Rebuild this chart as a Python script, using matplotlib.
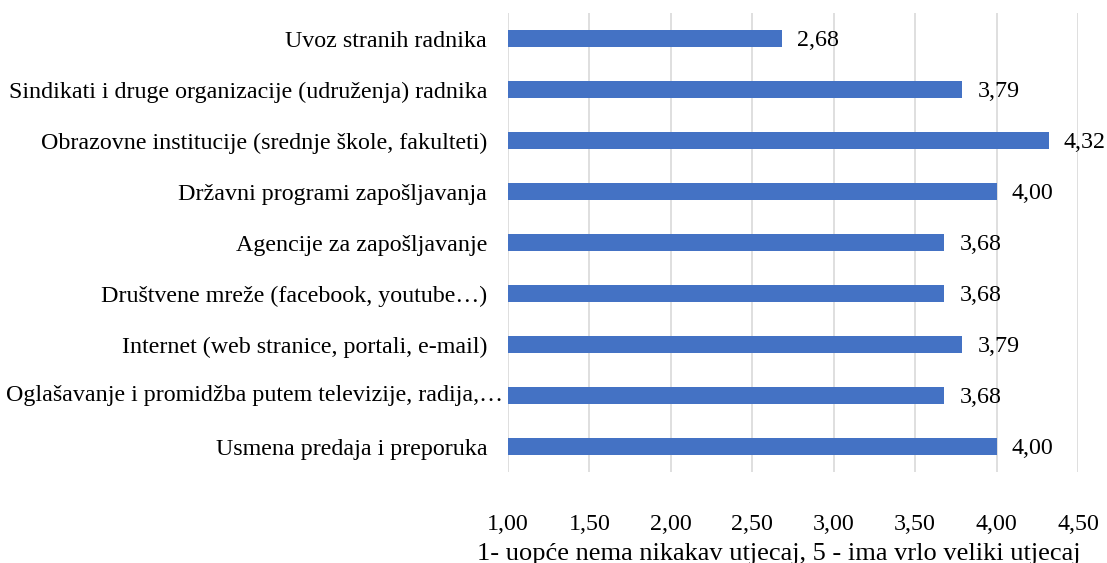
import matplotlib
matplotlib.use("Agg")
import matplotlib.pyplot as plt
import numpy as np

categories = [
    "Usmena predaja i preporuka",
    "Oglašavanje i promidžba putem televizije, radija,…",
    "Internet (web stranice, portali, e-mail)",
    "Društvene mreže (facebook, youtube…)",
    "Agencije za zapošljavanje",
    "Državni programi zapošljavanja",
    "Obrazovne institucije (srednje škole, fakulteti)",
    "Sindikati i druge organizacije (udruženja) radnika",
    "Uvoz stranih radnika",
]
values = [4.00, 3.68, 3.79, 3.68, 3.68, 4.00, 4.32, 3.79, 2.68]
xticks = [1.0, 1.5, 2.0, 2.5, 3.0, 3.5, 4.0, 4.5]
xlabel = "1- uopće nema nikakav utjecaj, 5 - ima vrlo veliki utjecaj"

plt.rcParams['font.family'] = ['Liberation Serif', 'DejaVu Serif']
FS = 17.25

fig = plt.figure(figsize=(11.07, 5.63), dpi=100)
ax = fig.add_axes([0.4589, 0.1616, 0.9738 - 0.4589, 0.9769 - 0.1616])

y = np.arange(len(categories))
base = 1.0
ax.barh(y, [v - base for v in values], left=base, height=0.35, color="#4472C4", zorder=3)
for yi, v in zip(y, values):
    ax.annotate(f"{v:.2f}".replace(".", ","), xy=(v, yi), xytext=(15, -2),
                textcoords="offset pixels",
                va="center", ha="left", fontsize=FS, color="#000000",
                annotation_clip=False)

ax.set_xlim(1.0, 4.5)
ax.set_ylim(-0.5, len(categories) - 0.5)
ax.set_xticks(xticks)
ax.set_xticklabels([f"{t:.2f}".replace(".", ",") for t in xticks], fontsize=FS)
ax.set_yticks(y)
# the long truncated label extends a bit closer to the axis in the reference
long_idx = 1
ylabels = [c if i != long_idx else "" for i, c in enumerate(categories)]
ax.set_yticklabels(ylabels, fontsize=FS)
ax.annotate(categories[long_idx], xy=(1.0, y[long_idx]), xytext=(-5, 0),
            textcoords="offset pixels", ha="right", va="center", fontsize=FS,
            annotation_clip=False, zorder=4)
ax.tick_params(axis="both", length=0)
ax.tick_params(axis="y", pad=15)
ax.tick_params(axis="x", pad=30)
ax.xaxis.grid(True, color="#D9D9D9", linewidth=1.2, zorder=0)
for s in ax.spines.values():
    s.set_visible(False)
fig.text(779 / 1107, 1 - 554 / 563, xlabel, fontsize=19, ha="center", va="center")

fig.savefig("out.png", dpi=100)
